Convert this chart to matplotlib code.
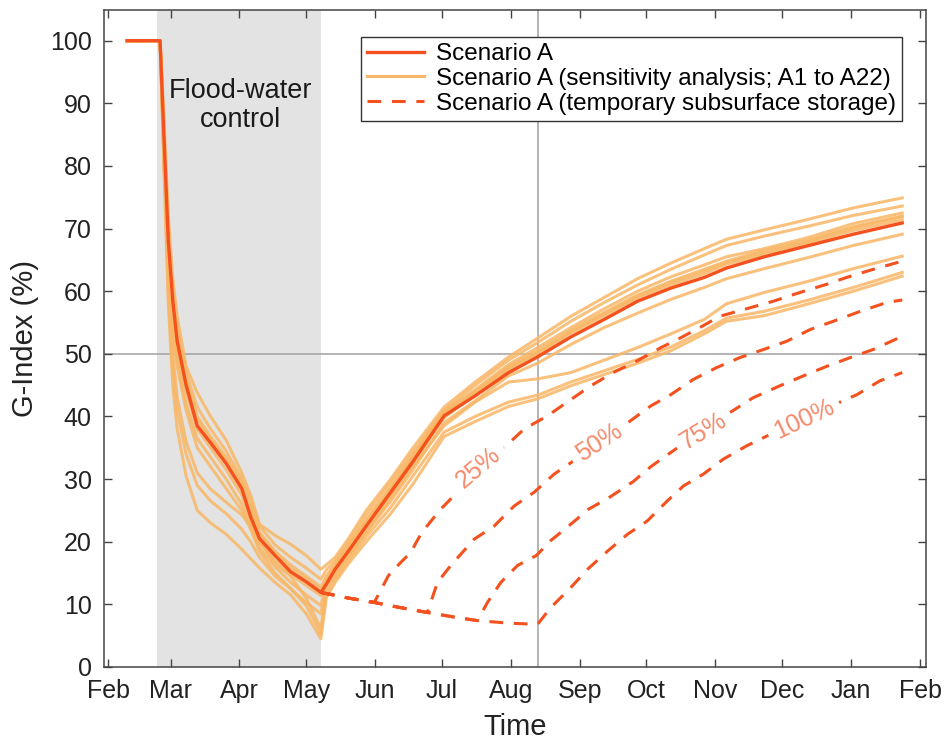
import matplotlib
matplotlib.use("Agg")
import matplotlib.pyplot as plt
from matplotlib.lines import Line2D

plt.rcParams['font.family'] = ['Liberation Sans', 'DejaVu Sans']

# time axis: days counted from 1 February
month_starts = [0, 28, 59, 89, 120, 150, 181, 212, 242, 273, 303, 334, 365]
month_labels = ['Feb', 'Mar', 'Apr', 'May', 'Jun', 'Jul', 'Aug',
                'Sep', 'Oct', 'Nov', 'Dec', 'Jan', 'Feb']

control_start = 22.0
control_end = 95.6
target_day = 193

days = [8.5, 23.3, 25, 27, 29, 31, 35, 40, 46, 53, 60, 64, 68, 75, 82, 89, 95.6,
        98, 102, 108, 116, 127, 137, 151, 165, 180, 193, 208, 223, 238, 253,
        268, 278, 295, 315, 335, 357]

scenario_a = [100, 100, 85, 68, 58.5, 52, 45, 38.5, 35.8, 32.5, 28.5, 24.0, 20.5,
              17.8, 15.2, 13.6, 11.9, 13.2, 15.6, 18.5, 22.5, 27.9, 32.8, 40.1,
              43.3, 47.0, 49.5, 52.7, 55.5, 58.4, 60.5, 62.2, 63.7, 65.5, 67.3,
              69.1, 70.9]

sens_a1 = [100, 100, 88, 72, 62, 56, 48, 43.8, 40, 36.2, 31, 27.5, 22.8, 21, 19.6,
           17.8, 15.6, 16.3, 17.5, 20.5, 25, 30, 35, 41.5, 45.5, 49.5, 52.5, 56,
           59, 62, 64.5, 66.8, 68.3, 69.8, 71.5, 73.3, 74.9]
sens_a2 = [100, 100, 86, 70, 60, 54, 47, 41.5, 38, 34.5, 30, 26.5, 22.5, 19.5,
           17.5, 15.8, 14.0, 15.5, 17, 20, 24.3, 29.5, 34.3, 41, 45, 49, 51.8,
           55.2, 58.2, 61, 63.5, 65.8, 67.3, 68.8, 70.4, 72.1, 73.6]
sens_a3 = [100, 100, 85, 69, 59, 53, 46, 40, 36.8, 33.5, 29.5, 25.5, 21.5, 18.5,
           16.3, 14.5, 12.8, 14.5, 16.5, 19.5, 23.5, 28.8, 33.8, 40.8, 44.3, 48.3,
           51, 54.2, 57.2, 60, 62.3, 64.2, 65.5, 66.8, 68.6, 70.8, 72.5]
sens_a4 = [100, 100, 84, 67, 57, 51, 44, 38, 35, 31.5, 27.5, 23.5, 20.0, 17, 14.8,
           13, 11.4, 13.8, 16, 19, 23, 28.3, 33.3, 40.5, 44, 48, 50.5, 53.8, 56.6,
           59.4, 61.6, 63.5, 64.8, 66.5, 68.2, 70.3, 72.0]
sens_a5 = [100, 100, 83, 65, 55, 49, 42, 36.5, 33.5, 30, 26, 22.5, 19, 16, 13.5,
           11.5, 9.8, 13.5, 15.5, 18.5, 22.3, 27.5, 32.5, 39.8, 43.5, 47.5, 50,
           53.3, 56.1, 58.9, 61, 62.8, 64.3, 65.9, 67.7, 69.7, 71.4]
sens_a6 = [100, 100, 82, 64, 54, 48, 41, 35, 32, 28.5, 25, 22, 18.5, 15, 12.5,
           10.3, 8.5, 13, 15, 17.8, 21.5, 26.5, 31.5, 39, 42.5, 46.5, 48.5, 51.5,
           54.2, 56.5, 58.7, 60.6, 62, 63.6, 65.4, 67.3, 69.1]
sens_a7 = [100, 100, 82, 62, 50, 43, 36, 31, 28.4, 26.3, 24.3, 22.5, 20, 16.5,
           14.5, 11, 6.1, 12.5, 14.5, 17.5, 21.5, 27, 32, 38.5, 42.3, 45.5, 46.0,
           47, 49, 51, 53.2, 55.5, 58, 59.8, 61.6, 63.6, 65.6]
sens_a8 = [100, 100, 80, 58, 45, 38, 30.5, 25, 23, 21.2, 18.8, 17.3, 15.8, 13.5,
           11.5, 8.5, 4.5, 11, 13.5, 16.5, 20, 24.5, 29.2, 36.8, 39.2, 41.6, 42.8,
           44.9, 46.7, 48.5, 50.5, 53.2, 55.2, 56.1, 58.0, 60.0, 62.4]
sens_a9 = [100, 100, 81, 60, 48, 41, 34, 29, 26.5, 24.5, 22, 20, 17.5, 14.5, 12.5,
           9.8, 5.3, 11.6, 14, 17, 20.8, 25.5, 30.5, 37.5, 40, 42.3, 43.4, 45.5,
           47.3, 49.1, 51.1, 53.7, 55.7, 56.8, 58.6, 60.6, 63.0]
sens_a10 = [100, 100, 85.5, 68.5, 59, 52.5, 45.5, 39.5, 36.3, 33, 29, 24.8, 21.2,
            18.2, 15.8, 14.1, 12.3, 13.9, 16.1, 19.2, 23.2, 28.4, 33.4, 40.6,
            43.9, 47.7, 50.2, 53.5, 56.4, 59.2, 61.4, 63.2, 64.6, 66.2, 68.0,
            70.1, 71.9]
sensitivity = [sens_a1, sens_a2, sens_a3, sens_a4, sens_a5,
               sens_a6, sens_a7, sens_a8, sens_a9, sens_a10]

# temporary subsurface storage runs
store25_t = [95.6, 108, 119.6, 126, 131, 136, 141, 149.5, 160, 170, 180, 187,
             197.5, 208, 217, 227, 238, 248.5, 256, 266, 275, 289, 299, 311, 323,
             332, 344, 357]
store25_v = [11.9, 11.0, 10.3, 14.6, 16.5, 18.3, 21.5, 25.2, 29, 32.5, 35.7, 38,
             40.1, 42.7, 44.9, 47, 48.9, 51, 52.3, 54.2, 56, 57.4, 58.4, 59.8, 61.1,
             62.2, 63.5, 64.8]
store50_t = [95.6, 108, 119.6, 131, 143.5, 148, 154, 164.5, 173.5, 182.5, 191.5,
             200.5, 222, 244, 253, 263, 273.5, 284, 294.7, 305, 315.7, 326, 336.7,
             350, 357]
store50_v = [11.9, 11.0, 10.3, 9.5, 8.7, 13.5, 16.2, 20.4, 22.5, 25.7, 27.9, 30.8,
             36, 41.7, 43.5, 45.9, 47.8, 49.4, 50.7, 52, 53.9, 55.2, 56.6, 58.2,
             58.6]
store75_t = [95.6, 108, 119.6, 131, 143.5, 155, 166, 170.5, 176.5, 184, 192.5, 199,
             208, 216, 225, 236, 244, 267, 290, 302, 312.7, 323, 333.6, 344, 357]
store75_v = [11.9, 11.0, 10.3, 9.5, 8.7, 8.0, 7.4, 10.3, 13.5, 16.2, 17.8, 20.2,
             22.8, 25.2, 27.0, 29.6, 32.0, 37.8, 43.0, 44.9, 46.5, 48.0, 49.4, 50.7,
             52.8]
store100_t = [95.6, 108, 119.6, 131, 143.5, 155, 166, 180, 193, 199, 208, 215.5,
              224.5, 233.5, 242.3, 251.3, 258.6, 267.6, 276.6, 287, 312, 336.7, 347,
              357]
store100_v = [11.9, 11.0, 10.3, 9.5, 8.7, 8.0, 7.4, 7.0, 6.8, 9.5, 12.7, 15.6, 18.5,
              21.2, 23.3, 26.5, 28.9, 30.8, 33.2, 35.3, 39.6, 43.5, 45.7, 47.0]

store_labels = ['25%', '50%', '75%', '100%']
label_x = [166.6, 220.6, 267.8, 312.7]
label_y = [31.9, 35.8, 37.7, 39.6]
label_rot = [40, 33, 31, 25]

main_col = '#f4511e'
sens_col = '#f8b766'
text_col = '#f58a6c'
dash = (0, (4.5, 3.5))

fig = plt.figure(figsize=(9.44, 7.41), dpi=100)
ax = fig.add_axes([0.1102, 0.0999, 0.8708, 0.8866])

ax.axvspan(control_start, control_end, color='#e3e3e3', lw=0, zorder=0)
ax.axhline(50, color='#a8a8a8', lw=1.2, zorder=1)
ax.axvline(target_day, color='#a8a8a8', lw=1.2, zorder=1)

for run in sensitivity:
    ax.plot(days, run, color=sens_col, lw=2.2, alpha=0.85, zorder=2)

for t, v in [(store25_t, store25_v), (store50_t, store50_v),
             (store75_t, store75_v), (store100_t, store100_v)]:
    ax.plot(t, v, color=main_col, lw=2.2, ls=dash, zorder=3)

ax.plot(days, scenario_a, color=main_col, lw=2.4, zorder=4)

# inline labels, the white box cuts a gap into the dashed line
for s, x, y, r in zip(store_labels, label_x, label_y, label_rot):
    ax.text(x, y, s, color=text_col, fontsize=18, rotation=r,
            rotation_mode='anchor', ha='center', va='center', zorder=5,
            bbox=dict(facecolor='white', edgecolor='none', pad=5))

ax.text(59.3, 89.6, 'Flood-water\ncontrol', ha='center', va='center',
        fontsize=19.5, linespacing=1.15, color='#1a1a1a')

ax.set_xlim(-1.9, 367.7)
ax.set_ylim(0, 104.9)
ax.set_xticks(month_starts)
ax.set_xticklabels(month_labels)
ax.set_yticks(range(0, 101, 10))
ax.tick_params(direction='in', top=True, right=True, length=6, width=1,
               colors='#444444', labelcolor='#222222', labelsize=18)
ax.tick_params(axis='x', pad=9)
ax.tick_params(axis='y', pad=9)
for sp in ax.spines.values():
    sp.set_color('#444444')
    sp.set_linewidth(1.1)

ax.set_xlabel('Time', fontsize=21, color='#222222', labelpad=7)
ax.set_ylabel('G-Index (%)', fontsize=21, color='#222222', labelpad=8)

handles = [Line2D([], [], color=main_col, lw=2.4),
           Line2D([], [], color=sens_col, lw=2.2),
           Line2D([], [], color=main_col, lw=2.2, ls=dash)]
names = ['Scenario A',
         'Scenario A (sensitivity analysis; A1 to A22)',
         'Scenario A (temporary subsurface storage)']
leg = ax.legend(handles, names, loc='upper right', bbox_to_anchor=(0.971, 0.959),
                borderaxespad=0, fontsize=17.5, handlelength=2.35,
                handletextpad=0.5, labelspacing=0.12, fancybox=False,
                framealpha=1, edgecolor='#333333', borderpad=0.25)
leg.get_frame().set_linewidth(1.0)
leg.set_zorder(6)

fig.savefig('out.png', dpi=100)
